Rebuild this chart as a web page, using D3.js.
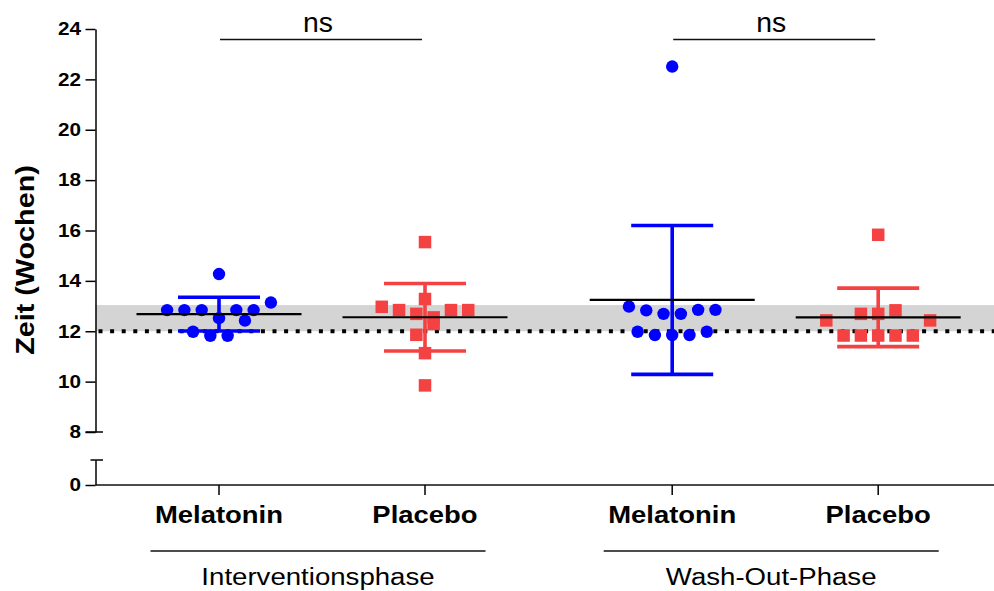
<!DOCTYPE html>
<html>
<head>
<meta charset="utf-8">
<script src="https://cdn.jsdelivr.net/npm/d3@7"></script>
<style>
  body { margin: 0; background: #fff; }
  svg { display: block; font-family: "Liberation Sans", Arial, sans-serif; }
</style>
</head>
<body>
<svg id="chart" width="994" height="591"></svg>
<script>
// ---- data ----
var categories = ["Melatonin", "Placebo", "Melatonin", "Placebo"];
var phases = ["Interventionsphase", "Wash-Out-Phase"];
var catPos = [0, 1, 2.2, 3.2];
var phaseCats = [[0, 1], [2, 3]];
var sigLabels = ["ns", "ns"];

// values (weeks) and the dot-plot lane of each point
var melInt     = [14.27, 13.14, 12.84, 12.84, 12.84, 12.84, 12.84, 12.52, 12.42, 11.98, 11.82, 11.82];
var melIntLane = [0, 3, -3, -2, -1, 1, 2, 0, 1.5, -1.5, -0.5, 0.5];
var plaInt     = [15.54, 13.28, 12.97, 12.84, 12.84, 12.84, 12.69, 12.55, 12.29, 11.86, 11.13, 9.85];
var plaIntLane = [0, 0, -2.5, -1.5, 1.5, 2.5, -0.5, 0.5, 0.5, -0.5, 0, 0];
var melWash     = [22.51, 12.98, 12.83, 12.69, 12.69, 12.85, 12.85, 11.98, 11.98, 11.85, 11.85, 11.85];
var melWashLane = [0, -2.5, -1.5, -0.5, 0.5, 1.5, 2.5, -2, 2, -1, 0, 1];
var plaWash     = [15.83, 12.83, 12.69, 12.69, 12.43, 12.43, 11.83, 11.83, 11.83, 11.83, 11.83];
var plaWashLane = [0, 1, -1, 0, -3, 3, -2, -1, 0, 1, 2];

var refLine = 12;          // dotted reference
var refBand = [12, 13.04]; // grey band
var yTicksTop = [8, 10, 12, 14, 16, 18, 20, 22, 24];
var yTicksLow = [0];

var blue = "#0000ff", red = "#f44242";

var series = [
    { cat: 0, values: melInt,  lanes: melIntLane,  shape: "circle", color: blue },
    { cat: 1, values: plaInt,  lanes: plaIntLane,  shape: "square", color: red },
    { cat: 2, values: melWash, lanes: melWashLane, shape: "circle", color: blue },
    { cat: 3, values: plaWash, lanes: plaWashLane, shape: "square", color: red }
];

// ---- layout ----
var W = 994, H = 591;
var axisX = 95.5, baseY = 485;

var svg = d3.select("#chart");

var x = d3.scaleLinear().domain([0, 1]).range([219, 425]);
var lane = d3.scaleLinear().domain([0, 1]).range([0, 17.3]);
var yTop = d3.scaleLinear().domain([8, 24]).range([432, 29]);
var yLow = d3.scaleLinear().domain([0, 1]).range([baseY, 460]);

// widen text a bit, the original export is horizontally stretched
function stretch(sel, k) {
    sel.each(function () {
        var len = this.getComputedTextLength();
        d3.select(this).attr("textLength", len * k).attr("lengthAdjust", "spacingAndGlyphs");
    });
}

// grey band + dotted line
svg.append("rect")
    .attr("x", axisX)
    .attr("y", yTop(refBand[1]))
    .attr("width", W - axisX)
    .attr("height", yTop(refBand[0]) - yTop(refBand[1]))
    .attr("fill", "#d4d4d4");

svg.append("line")
    .attr("x1", axisX + 3).attr("x2", W)
    .attr("y1", yTop(refLine)).attr("y2", yTop(refLine))
    .attr("stroke", "#000")
    .attr("stroke-width", 4)
    .attr("stroke-dasharray", "4 7.6");

// points
series.forEach(function (s) {
    var cx = x(catPos[s.cat]);
    var g = svg.append("g").attr("fill", s.color);
    var pts = s.values.map(function (v, i) { return { v: v, l: s.lanes[i] }; });
    if (s.shape === "circle") {
        g.selectAll("circle").data(pts).enter().append("circle")
            .attr("cx", function (d) { return cx + lane(d.l); })
            .attr("cy", function (d) { return yTop(d.v); })
            .attr("r", 6.2);
    } else {
        var side = 12.5;
        g.selectAll("rect").data(pts).enter().append("rect")
            .attr("x", function (d) { return cx + lane(d.l) - side / 2; })
            .attr("y", function (d) { return yTop(d.v) - side / 2; })
            .attr("width", side).attr("height", side);
    }
});

// mean +- SD
series.forEach(function (s) {
    var cx = x(catPos[s.cat]);
    var m = d3.mean(s.values), sd = d3.deviation(s.values);
    var g = svg.append("g").attr("stroke", s.color).attr("stroke-width", 3.6);
    g.append("line").attr("x1", cx).attr("x2", cx)
        .attr("y1", yTop(m + sd)).attr("y2", yTop(m - sd));
    [m + sd, m - sd].forEach(function (v) {
        g.append("line").attr("x1", cx - 41).attr("x2", cx + 41)
            .attr("y1", yTop(v)).attr("y2", yTop(v));
    });
    svg.append("line")
        .attr("x1", cx - 82.5).attr("x2", cx + 82.5)
        .attr("y1", yTop(m)).attr("y2", yTop(m))
        .attr("stroke", "#000").attr("stroke-width", 2.2);
});

// y axis (broken)
function styleAxis(g) {
    g.select(".domain").attr("stroke", "#000").attr("stroke-width", 1.5);
    g.selectAll(".tick line").attr("stroke", "#000").attr("stroke-width", 1.5);
    g.selectAll(".tick text")
        .attr("fill", "#000")
        .style("font-family", "'Liberation Sans', Arial, sans-serif")
        .style("font-size", "18px")
        .style("font-weight", "bold")
        .call(stretch, 1.15);
}

svg.append("g")
    .attr("transform", "translate(" + axisX + ",0)")
    .call(d3.axisLeft(yTop).tickValues(yTicksTop).tickFormat(d3.format("d"))
        .tickSize(10).tickSizeOuter(0).tickPadding(4.5))
    .call(styleAxis);

svg.append("g")
    .attr("transform", "translate(" + axisX + ",0)")
    .call(d3.axisLeft(yLow).tickValues(yTicksLow).tickFormat(d3.format("d"))
        .tickSize(10).tickSizeOuter(0).tickPadding(4.5))
    .call(styleAxis);

// break caps
svg.append("line").attr("x1", axisX - 10).attr("x2", axisX + 7.5)
    .attr("y1", yTop(8)).attr("y2", yTop(8)).attr("stroke", "#000").attr("stroke-width", 1.5);
svg.append("line").attr("x1", axisX - 5).attr("x2", axisX + 7.5)
    .attr("y1", yLow(1)).attr("y2", yLow(1)).attr("stroke", "#000").attr("stroke-width", 1.5);

// x baseline + category ticks
svg.append("line").attr("x1", axisX).attr("x2", W)
    .attr("y1", baseY).attr("y2", baseY)
    .attr("stroke", "#111").attr("stroke-width", 1.5);

svg.append("g").selectAll("line").data(catPos).enter().append("line")
    .attr("x1", function (d) { return x(d); }).attr("x2", function (d) { return x(d); })
    .attr("y1", baseY).attr("y2", baseY + 10)
    .attr("stroke", "#000").attr("stroke-width", 1.5);

// category labels
svg.append("g").selectAll("text").data(categories).enter().append("text")
    .attr("x", function (d, i) { return x(catPos[i]); })
    .attr("y", 523)
    .attr("text-anchor", "middle")
    .style("font-size", "24.5px").style("font-weight", "bold")
    .text(function (d) { return d; })
    .call(stretch, 1.12);

// phase brackets
phaseCats.forEach(function (pc, i) {
    var mid = (x(catPos[pc[0]]) + x(catPos[pc[1]])) / 2 - 4;
    svg.append("line").attr("x1", mid - 167.5).attr("x2", mid + 167.5)
        .attr("y1", 551).attr("y2", 551)
        .attr("stroke", "#111").attr("stroke-width", 1.5);
    svg.append("text")
        .attr("x", mid).attr("y", 585)
        .attr("text-anchor", "middle")
        .style("font-size", "23px")
        .text(phases[i])
        .call(stretch, 1.2);

    // significance
    var x0 = x(catPos[pc[0]]) + 1, x1 = x(catPos[pc[1]]) - 3;
    svg.append("line").attr("x1", x0).attr("x2", x1)
        .attr("y1", 39.5).attr("y2", 39.5)
        .attr("stroke", "#111").attr("stroke-width", 1.5);
    svg.append("text")
        .attr("x", (x0 + x1) / 2 - 3).attr("y", 32)
        .attr("text-anchor", "middle")
        .style("font-size", "27px")
        .text(sigLabels[i])
        .call(stretch, 1.05);
});

// y title
svg.append("text")
    .attr("transform", "translate(34,260) rotate(-90)")
    .attr("text-anchor", "middle")
    .style("font-size", "25px").style("font-weight", "bold")
    .text("Zeit (Wochen)")
    .call(stretch, 1.15);
</script>
</body>
</html>
